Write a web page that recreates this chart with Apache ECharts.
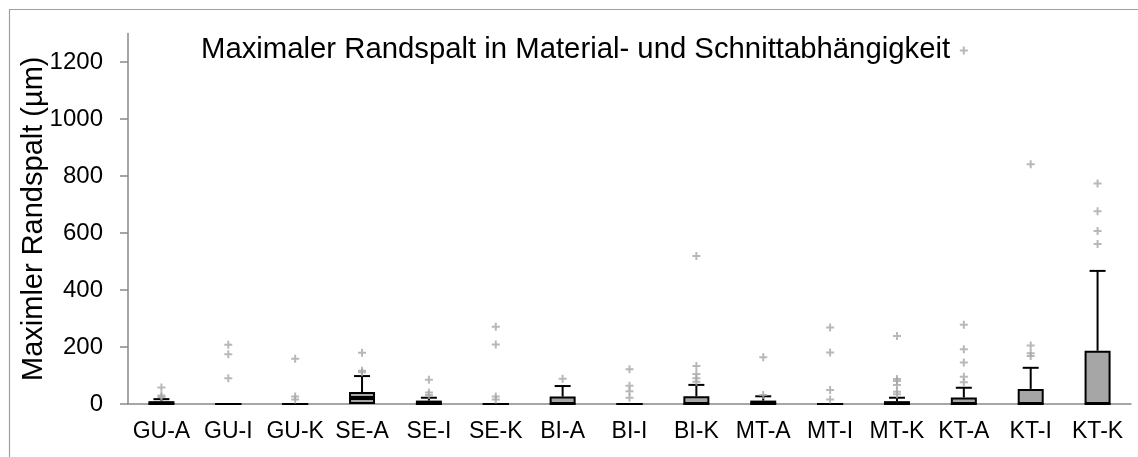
<!DOCTYPE html>
<html>
<head>
<meta charset="utf-8">
<script src="https://cdn.jsdelivr.net/npm/echarts@6/dist/echarts.min.js"></script>
<style>html,body{margin:0;padding:0;background:#fff;}#c{width:1138px;height:457px;}</style>
</head>
<body>
<div id="c"></div>
<script>
const categories = ['GU-A','GU-I','GU-K','SE-A','SE-I','SE-K','BI-A','BI-I','BI-K','MT-A','MT-I','MT-K','KT-A','KT-I','KT-K'];
const medianVals = [0, 0, 0, 21, 0, 0, 0, 0, 0, 0, 0, 0, 0, 0, 0];
const q3Vals     = [10, 0, 0, 42, 12, 0, 26, 0, 27, 12, 0, 10, 23, 53, 187];
const whiskerTop = [17, 0, 0, 98, 22, 0, 63, 0, 67, 27, 0, 22, 57, 127, 467];
const outliers = [
  [58, 30, 25],
  [208, 175, 90],
  [159, 26, 16],
  [180, 117, 111],
  [85, 40, 32],
  [271, 209, 26, 16],
  [89],
  [122, 64, 45, 22],
  [519, 133, 105, 90, 78],
  [164, 32],
  [268, 181, 49, 16],
  [239, 88, 81, 67, 43, 34],
  [1240, 278, 192, 146, 96, 76],
  [841, 205, 178, 168],
  [774, 676, 607, 561]
];
const yTicks = [0, 200, 400, 600, 800, 1000, 1200];

const upperVals = q3Vals.map((q, i) => q - medianVals[i]);
const whiskerData = [];
whiskerTop.forEach((w, i) => { if (w > q3Vals[i]) whiskerData.push([i, q3Vals[i], w]); });
const outlierData = [];
outliers.forEach((arr, i) => arr.forEach(v => outlierData.push([i, v])));

const FONT = 'Liberation Sans, Arial, sans-serif';
const chart = echarts.init(document.getElementById('c'), null, {renderer: 'canvas'});
chart.setOption({
  animation: false,
  backgroundColor: '#fff',
  title: {
    text: 'Maximaler Randspalt in Material- und Schnittabhängigkeit',
    left: 196, top: 30,
    textStyle: {fontFamily: FONT, fontSize: 29.3, fontWeight: 'normal', color: '#000'}
  },
  graphic: [{
    type: 'rect', silent: true,
    shape: {x: 9.5, y: 9.5, width: 1200, height: 500},
    style: {fill: 'none', stroke: '#a0a0a0', lineWidth: 1.2}
  }],
  grid: {left: 128, right: 7, top: 33.5, bottom: 53, containLabel: false},
  xAxis: {
    type: 'category',
    data: categories,
    axisLine: {lineStyle: {color: '#898989', width: 1.5}},
    axisTick: {length: 7, lineStyle: {color: '#898989', width: 1.5}},
    axisLabel: {fontFamily: FONT, fontSize: 23, color: '#000', margin: 16, interval: 0},
    splitLine: {show: false}
  },
  yAxis: {
    type: 'value', min: 0, max: 1300,
    name: 'Maximler Randspalt (µm)',
    nameLocation: 'middle', nameGap: 80, nameRotate: 90, nameMoveOverlap: false,
    nameTextStyle: {fontFamily: FONT, fontSize: 29, color: '#000'},
    axisLine: {show: true, lineStyle: {color: '#898989', width: 1.5}},
    axisTick: {show: true, length: 8, customValues: yTicks, lineStyle: {color: '#898989', width: 1.5}},
    axisLabel: {fontFamily: FONT, fontSize: 24, color: '#000', margin: 25, customValues: yTicks,
      formatter: function (v) { return String(v); }},
    splitLine: {show: false}
  },
  series: [
    {
      type: 'bar', stack: 'box', barWidth: 26, data: medianVals,
      itemStyle: {color: '#a6a6a6', borderColor: '#000', borderWidth: 2}
    },
    {
      type: 'bar', stack: 'box', barWidth: 26, data: upperVals,
      itemStyle: {color: '#a6a6a6', borderColor: '#000', borderWidth: 2}
    },
    {
      type: 'custom', data: whiskerData, z: 3,
      renderItem: function (params, api) {
        const x = api.value(0);
        const p1 = api.coord([x, api.value(1)]);
        const p2 = api.coord([x, api.value(2)]);
        const st = {stroke: '#000', lineWidth: 2};
        return {type: 'group', children: [
          {type: 'line', shape: {x1: p1[0], y1: p1[1], x2: p2[0], y2: p2[1]}, style: st},
          {type: 'line', shape: {x1: p2[0] - 8, y1: p2[1], x2: p2[0] + 8, y2: p2[1]}, style: st}
        ]};
      }
    },
    {
      type: 'scatter', data: outlierData, z: 4,
      symbol: 'path://M3,0H5V3H8V5H5V8H3V5H0V3H3Z', symbolSize: 8,
      itemStyle: {color: '#a6a6a6'}
    }
  ]
});
</script>
</body>
</html>
